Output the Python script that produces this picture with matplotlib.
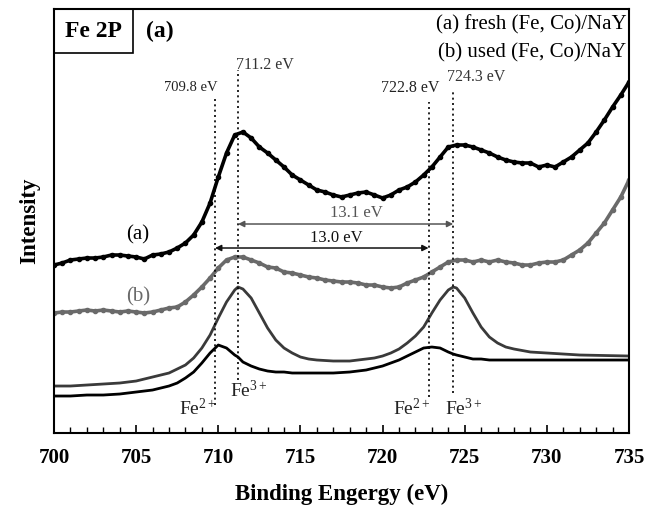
import numpy as np
import matplotlib
matplotlib.use('Agg')
import matplotlib.pyplot as plt
from matplotlib.ticker import MultipleLocator
from matplotlib.patches import Rectangle

plt.rcParams['font.family'] = ['Liberation Serif', 'DejaVu Serif']
plt.rcParams['mathtext.fontset'] = 'custom'
plt.rcParams['mathtext.rm'] = 'Liberation Serif'
plt.rcParams['mathtext.it'] = 'Liberation Serif:italic'

# Datos: energia de enlace (eV) e intensidad (u.a.)
energia = np.arange(700, 735.5, 0.5)

fresco = [168, 170, 173, 174, 175, 175, 176, 178, 178, 177,
          176, 174, 178, 179, 181, 185, 190, 198, 211, 230,
          256, 280, 298, 301, 295, 286, 280, 273, 266, 258,
          253, 248, 243, 241, 238, 236, 238, 240, 241, 238,
          235, 238, 243, 246, 251, 258, 266, 276, 286, 288,
          288, 286, 283, 280, 276, 273, 271, 270, 270, 266,
          268, 266, 271, 276, 283, 290, 301, 313, 326, 338,
          351]

usado = [120, 121, 121, 122, 123, 122, 123, 122, 121, 122,
         121, 120, 121, 123, 125, 126, 131, 138, 146, 155,
         165, 173, 176, 176, 173, 170, 166, 165, 161, 160,
         158, 156, 155, 153, 152, 151, 151, 150, 148, 148,
         146, 145, 146, 150, 153, 156, 161, 166, 171, 173,
         173, 171, 173, 171, 173, 171, 170, 168, 168, 170,
         171, 171, 173, 178, 183, 190, 200, 210, 223, 236,
         253]

# Ajustes (componentes Fe3+ y Fe2+)
ajuste_x = [700, 701, 702, 703, 704, 705, 705.5, 706, 706.5, 707,
            707.5, 708, 708.5, 709, 709.5, 710, 710.5, 711, 711.2, 711.5,
            712, 712.5, 713, 713.5, 714, 714.5, 715, 715.5, 716, 717,
            718, 718.5, 719, 719.5, 720, 720.5, 721, 721.5, 722, 722.5,
            723, 723.5, 724, 724.3, 724.5, 725, 725.5, 726, 726.5, 727,
            727.5, 728, 729, 730, 732, 735]

fe3 = [47, 47, 48, 49, 50, 52, 54, 56, 58, 60,
       64, 68, 75, 85, 98, 115, 131, 143, 146, 144,
       135, 120, 105, 93, 85, 80, 76, 74, 73, 72,
       72, 73, 74, 75, 77, 80, 84, 90, 97, 106,
       120, 133, 143, 146, 145, 135, 120, 106, 96, 90,
       86, 84, 81, 80, 78, 77]

fe2 = [37, 37, 38, 38, 39, 41, 42, 43, 45, 47,
       50, 55, 61, 70, 80, 88, 85, 78, 76, 71,
       67, 64, 62, 61, 61, 60, 60, 60, 60, 60,
       61, 62, 63, 65, 67, 70, 73, 77, 81, 85,
       86, 85, 81, 79, 78, 76, 74, 74, 73, 73,
       73, 73, 73, 73, 73, 73]

picos = [709.8, 711.2, 722.8, 724.3]
etiquetas_picos = ['709.8 eV', '711.2 eV', '722.8 eV', '724.3 eV']

fig = plt.figure(figsize=(6.61, 5.08), dpi=100)
ax = fig.add_axes([0.0817, 0.1476, 0.8699, 0.8347])

gris = '#6a6a6a'
ax.plot(energia, fresco, '-', color='black', lw=2.6, marker='o', ms=3)
ax.plot(energia, usado, '-', color=gris, lw=2.6, marker='o', ms=3)
ax.plot(ajuste_x, fe3, color='#3a3a3a', lw=2.0)
ax.plot(ajuste_x, fe2, color='black', lw=2.0)

# Lineas verticales punteadas
extremos = [(28, 336), (53, 363), (36, 331), (40, 343)]
for p, (y0, y1) in zip(picos, extremos):
    ax.vlines(p, y0, y1, colors='black', linestyles=(0, (1.2, 2)), lw=1.2)

# Etiquetas de los picos
ax.text(708.3, 345, etiquetas_picos[0], ha='center', va='center', fontsize=10.5, color='#222222')
ax.text(712.85, 368, etiquetas_picos[1], ha='center', va='center', fontsize=11.5, color='#333333')
ax.text(721.7, 345, etiquetas_picos[2], ha='center', va='center', fontsize=11.5, color='#222222')
ax.text(725.7, 356, etiquetas_picos[3], ha='center', va='center', fontsize=11.5, color='#333333')

# Flechas de separacion
ax.annotate('', xy=(picos[1], 209), xytext=(picos[3], 209),
            arrowprops=dict(arrowstyle='<|-|>', color='#555555', lw=1.1,
                            mutation_scale=9, shrinkA=0, shrinkB=0))
ax.annotate('', xy=(picos[0], 185), xytext=(picos[2], 185),
            arrowprops=dict(arrowstyle='<|-|>', color='#111111', lw=1.1,
                            mutation_scale=9, shrinkA=0, shrinkB=0))
ax.text(718.4, 220, '13.1 eV', ha='center', va='center', fontsize=12, color='#555555')
ax.text(717.2, 195, '13.0 eV', ha='center', va='center', fontsize=12, color='#111111')

# Etiquetas de las curvas
ax.text(705.1, 198, '(a)', ha='center', va='center', fontsize=15, color='black')
ax.text(705.1, 136, '(b)', ha='center', va='center', fontsize=15, color=gris)

# Fe2+ / Fe3+
ax.text(708.75, 25, r'Fe$^{\rm 2+}$', ha='center', va='center', fontsize=14, color='#222222')
ax.text(711.85, 43, r'Fe$^{\rm 3+}$', ha='center', va='center', fontsize=14, color='#222222')
ax.text(721.75, 25, r'Fe$^{\rm 2+}$', ha='center', va='center', fontsize=14, color='#222222')
ax.text(724.95, 25, r'Fe$^{\rm 3+}$', ha='center', va='center', fontsize=14, color='#222222')

# Leyenda en texto
ax.text(734.85, 408, '(a) fresh (Fe, Co)/NaY', ha='right', va='center', fontsize=15)
ax.text(734.85, 380, '(b) used (Fe, Co)/NaY', ha='right', va='center', fontsize=15)

# Recuadro "Fe 2P" y "(a)"
ax.add_patch(Rectangle((0, 0.896), 0.137, 0.104, transform=ax.transAxes,
                       fill=False, edgecolor='black', lw=1.2, clip_on=False))
ax.text(0.0687, 0.948, 'Fe 2P', transform=ax.transAxes, ha='center', va='center',
        fontsize=17, fontweight='bold')
ax.text(0.184, 0.948, '(a)', transform=ax.transAxes, ha='center', va='center',
        fontsize=17, fontweight='bold')

ax.set_xlim(700, 735)
ax.set_ylim(0, 424)
ax.set_yticks([])
ax.set_xticks(range(700, 736, 5))
ax.xaxis.set_minor_locator(MultipleLocator(1))
ax.tick_params(axis='x', which='major', direction='in', length=6, width=1.2,
               labelsize=15, pad=11)
ax.tick_params(axis='x', which='minor', direction='in', length=4, width=1.0)
for lbl in ax.get_xticklabels():
    lbl.set_fontweight('bold')
for s in ax.spines.values():
    s.set_linewidth(1.5)

ax.set_xlabel('Binding Engergy (eV)', fontsize=16.5, fontweight='bold', labelpad=11)
ax.set_ylabel('Intensity', fontsize=16.5, fontweight='bold', labelpad=10)

fig.savefig('out.png', dpi=100)
